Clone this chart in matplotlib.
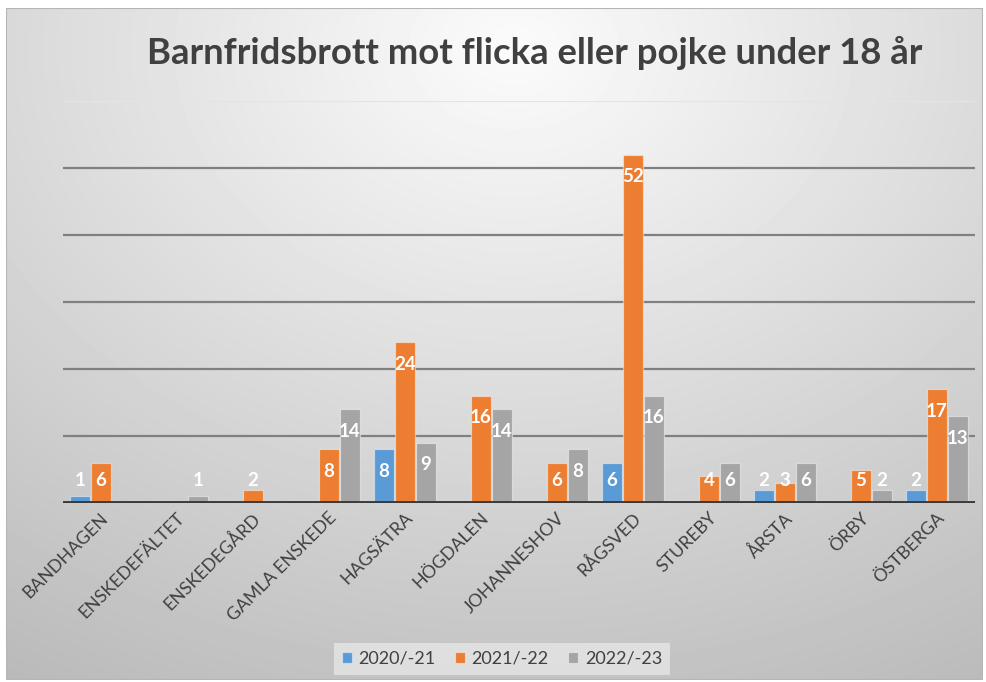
"""Barnfridsbrott per stadsdel, tre verksamhetsår."""

import matplotlib
matplotlib.use("Agg")
import matplotlib.pyplot as plt
from matplotlib.patches import Rectangle
from matplotlib.transforms import ScaledTranslation
import numpy as np

plt.rcParams["font.family"] = ["Lato", "DejaVu Sans"]

TITLE = "Barnfridsbrott mot flicka eller pojke under 18 år"
CATEGORIES = [
    "BANDHAGEN", "ENSKEDEFÄLTET", "ENSKEDEGÅRD", "GAMLA ENSKEDE", "HAGSÄTRA",
    "HÖGDALEN", "JOHANNESHOV", "RÅGSVED", "STUREBY", "ÅRSTA", "ÖRBY", "ÖSTBERGA",
]
SERIES_NAMES = ["2020/-21", "2021/-22", "2022/-23"]
nan = np.nan
VALUES_2020 = [1, nan, nan, nan, 8, nan, nan, 6, nan, 2, nan, 2]
VALUES_2021 = [6, nan, 2, 8, 24, 16, 6, 52, 4, 3, 5, 17]
VALUES_2022 = [nan, 1, nan, 14, 9, 14, 8, 16, 6, 6, 2, 13]
COLORS = ["#5B9BD5", "#ED7D31", "#A5A5A5"]

W, H = 987, 682
fig = plt.figure(figsize=(W / 100, H / 100), dpi=100, facecolor="white")

# chart area background: soft radial grey gradient, like the Office style
bg = fig.add_axes((6 / W, 1 - 680 / H, 977 / W, 672 / H))
gx, gy = np.meshgrid(np.linspace(0, 1, 300), np.linspace(0, 1, 220))
r = np.sqrt(((gx - 0.52) * 1.0) ** 2 + ((gy - 0.06) * 0.9) ** 2)
shade = np.clip(0.985 - 0.26 * r, 0, 1)
bg.imshow(shade, cmap="gray", vmin=0, vmax=1, aspect="auto",
          extent=(0, 1, 1, 0), interpolation="bilinear")
bg.set_axis_off()
bg.add_patch(Rectangle((0, 0), 1, 1, transform=bg.transAxes, fill=False,
                       edgecolor="#b5b5b5", linewidth=1.5))

ax = fig.add_axes((63 / W, 1 - 503 / H, 912 / W, 402 / H))
ax.patch.set_alpha(0)
x = np.arange(len(CATEGORIES))
offset, width = 0.275, 0.255
for k, (vals, color) in enumerate(zip([VALUES_2020, VALUES_2021, VALUES_2022], COLORS)):
    vals = np.array(vals, dtype=float)
    pos = x + (k - 1) * offset
    ax.bar(pos, np.nan_to_num(vals), width, color=color, edgecolor=(1, 1, 1, 0.45),
           linewidth=0.9, label=SERIES_NAMES[k], zorder=3)
    for px, v in zip(pos, vals):
        if np.isnan(v):
            continue
        ax.text(px, max(v - 3.3, 3.3), f"{int(v)}", ha="center", va="center",
                color="white", fontsize=13.5, fontweight="bold", zorder=5)

ax.set_xlim(-0.5, len(CATEGORIES) - 0.5)
ax.set_ylim(0, 60)
for yv in range(10, 60, 10):
    ax.axhline(yv, color="#808080", linewidth=1.6, zorder=1)
ax.axhline(60, color="#e4e4e4", linewidth=1.6, zorder=1)
ax.axhline(0, color="#3a3a3a", linewidth=2.8, zorder=4)
for side in ax.spines.values():
    side.set_visible(False)
ax.set_yticks([])
ax.set_xticks(x)
ax.set_xticklabels(CATEGORIES, rotation=45, ha="right", va="center",
                   rotation_mode="anchor", fontsize=12.8, color="#404040")
ax.tick_params(axis="x", length=0, pad=9)
shift = ScaledTranslation(5 / 100, 0, fig.dpi_scale_trans)
for lbl in ax.get_xticklabels():
    lbl.set_transform(lbl.get_transform() + shift)

fig.text(535 / W, 1 - 53 / H, TITLE, ha="center", va="center", fontsize=26.3,
         fontweight="bold", color="#404040")

leg = fig.legend(loc="center", bbox_to_anchor=(502 / W, 1 - 659 / H), ncol=3,
                 fontsize=13, frameon=True, handlelength=0.55, handleheight=0.55,
                 handletextpad=0.35, columnspacing=1.1, borderpad=0.45, fancybox=False)
leg.get_frame().set_facecolor("#e6e6e6")
leg.get_frame().set_edgecolor("none")
leg.get_frame().set_alpha(0.8)
for t in leg.get_texts():
    t.set_color("#404040")

fig.savefig("out.png", dpi=100, facecolor="white")
